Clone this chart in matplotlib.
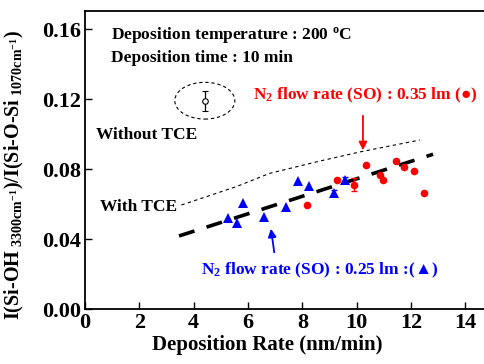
import matplotlib
matplotlib.use("Agg")
import matplotlib.pyplot as plt
from matplotlib.patches import Ellipse

plt.rcParams['font.family'] = ['Liberation Serif', 'DejaVu Sans']
plt.rcParams['font.weight'] = 'bold'
plt.rcParams['axes.labelweight'] = 'bold'
plt.rcParams['mathtext.fontset'] = 'custom'
plt.rcParams['mathtext.rm'] = 'Liberation Serif:bold'
plt.rcParams['mathtext.it'] = 'Liberation Serif:bold'
plt.rcParams['mathtext.bf'] = 'Liberation Serif:bold'

# data
blue_x = [5.27, 5.60, 5.82, 6.59, 7.39, 7.84, 8.23, 9.17, 9.56]
blue_y = [0.052, 0.0495, 0.061, 0.053, 0.0587, 0.0733, 0.0707, 0.0665, 0.0737]
blue_err_x = [9.17, 9.56]
blue_err_y = [0.0665, 0.0737]
blue_err = [0.0015, 0.0017]

red_x = [8.17, 9.29, 9.90, 10.33, 10.85, 10.98, 11.46, 11.74, 12.10, 12.47]
red_y = [0.0598, 0.0741, 0.0713, 0.0827, 0.0766, 0.0741, 0.0848, 0.0813, 0.079, 0.0662]
red_err_x = [9.90]
red_err_y = [0.0713]
red_err = [0.0038]

fit_x = [3.46, 12.81]
fit_y = [0.0419, 0.0886]

notce_x = [3.55, 5.57, 6.80, 8.64, 10.17, 12.32]
notce_y = [0.0596, 0.0701, 0.0777, 0.0847, 0.0901, 0.0967]

ref_x = [4.41]
ref_y = [0.1192]
ref_err = [0.0057]

xticks = [0, 2, 4, 6, 8, 10, 12, 14]
yticks = [0.00, 0.04, 0.08, 0.12, 0.16]

fig = plt.figure(figsize=(4.84, 3.64), dpi=100)
ax = fig.add_axes([85/484, (364-309.3)/364, (484-85)/484, (309.3-11)/364])
ax.set_xlim(0, 399/27.17)
ax.set_ylim(0, 298.3/1750)

ax.plot(notce_x, notce_y, ls=(0, (3, 3)), color='black', lw=0.8)
ax.plot(fit_x, fit_y, ls=(0, (4.5, 3.5)), color='black', lw=2.6)

ax.errorbar(blue_err_x, blue_err_y, yerr=blue_err, fmt='none', ecolor='blue', capsize=2.5, lw=0.9)
ax.errorbar(red_err_x, red_err_y, yerr=red_err, fmt='none', ecolor='red', capsize=2.5, lw=0.9)
ax.plot(blue_x, blue_y, '^', color='blue', ms=6.5, mew=0, ls='none')
ax.plot(red_x, red_y, 'o', color='red', ms=5.5, mew=0, ls='none')

ax.errorbar(ref_x, ref_y, yerr=ref_err, fmt='o', mfc='white', mec='black', ecolor='black',
            ms=4, mew=0.8, capsize=2.5, lw=0.9)
ax.add_patch(Ellipse((ref_x[0], ref_y[0]), 2.21, 0.021, fill=False, ls=(0, (3, 2.5)), lw=0.8, ec='black'))

ax.annotate('', xy=(10.23, 0.0893), xytext=(10.23, 0.1122),
            arrowprops=dict(arrowstyle='-|>', color='red', lw=1.3, mutation_scale=12))
ax.annotate('', xy=(6.83, 0.0476), xytext=(6.98, 0.031),
            arrowprops=dict(arrowstyle='-|>', color='blue', lw=1.3, mutation_scale=12))

fs = 12.5
ax.text(0.97, 0.1567, r'Deposition temperature : 200 $^{\rm o}$C', fontsize=fs, va='center', ha='left')
ax.text(0.97, 0.1436, 'Deposition time : 10 min', fontsize=fs, va='center', ha='left')
ax.text(6.18, 0.1225, r'N$_2$ flow rate (SO) : 0.35 lm (●)', fontsize=fs, va='center', ha='left', color='red')
ax.text(0.42, 0.0996, 'Without TCE', fontsize=fs, va='center', ha='left')
ax.text(0.54, 0.0586, 'With TCE', fontsize=fs, va='center', ha='left')
ax.text(4.28, 0.0225, r'N$_2$ flow rate (SO) : 0.25 lm :(▲)', fontsize=fs, va='center', ha='left', color='blue')

ax.set_xticks(xticks)
ax.set_yticks(yticks)
ax.set_xticklabels([str(v) for v in xticks])
ax.set_yticklabels(['%.2f' % v for v in yticks])
ax.tick_params(direction='in', length=5, width=1, labelsize=16, pad=3)
ax.spines['right'].set_visible(False)
for s in ['left', 'bottom', 'top']:
    ax.spines[s].set_linewidth(1.3)

ax.set_xlabel('Deposition Rate (nm/min)', fontsize=15, fontweight='bold')
ax.set_ylabel(r'I(Si-OH$_{\ 3300\mathrm{cm}^{-1}}$)/I(Si-O-Si$_{\ 1070\mathrm{cm}^{-1}}$)',
              fontsize=14.5, fontweight='bold')
ax.xaxis.set_label_coords(0.457, -0.086)
ax.yaxis.set_label_coords(-0.148, 0.449)

fig.savefig('out.png', dpi=100)
